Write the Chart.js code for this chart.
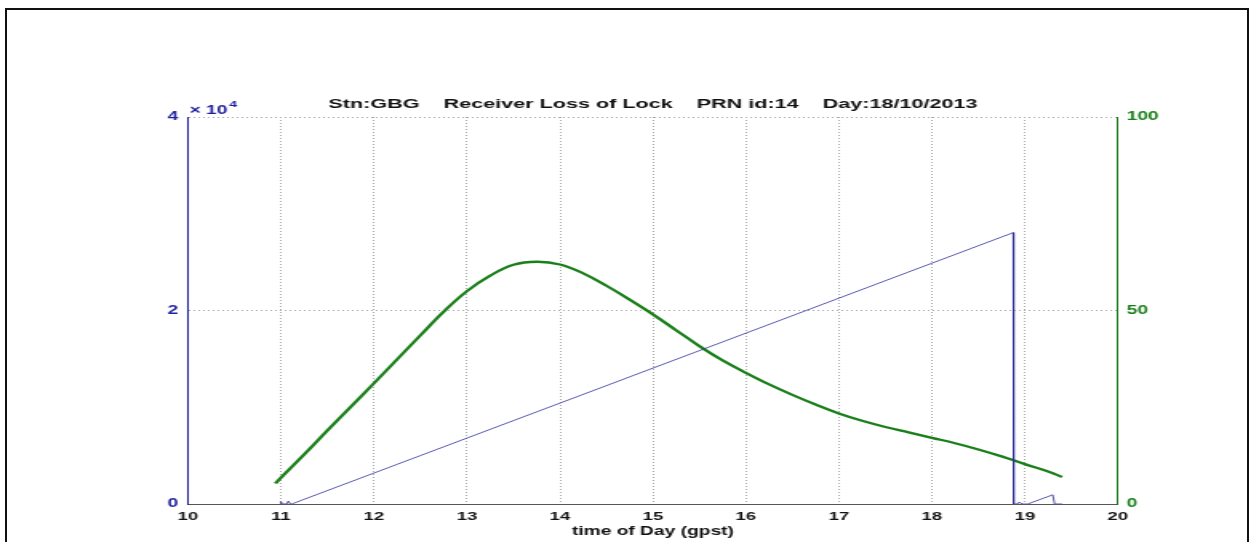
<!DOCTYPE html>
<html>
<head>
<meta charset="utf-8">
<script src="https://cdn.jsdelivr.net/npm/chart.js@4.4.1/dist/chart.umd.min.js"></script>
<style>
  html, body { margin: 0; padding: 0; background: #fff; overflow: hidden; }
  #grafico { position: absolute; left: 0; top: 0; }
  #marco {
    position: absolute; left: 5px; top: 8px; width: 1244px; height: 600px;
    border: 2px solid #111; box-sizing: border-box; pointer-events: none;
  }
</style>
</head>
<body>
<!-- el lienzo se dibuja angosto y se estira a lo ancho, como la figura original -->
<canvas id="grafico" width="782" height="542" style="width:1251px;height:542px"></canvas>
<div id="marco"></div>
<script>
/* ===================== DATOS ===================== */
// perdida de bloqueo del receptor (eje izquierdo, x 10^4)
const horasBloqueo = [11.0, 11.0, 11.01, 11.06, 11.08, 11.1, 11.115, 18.875, 18.88, 18.92, 18.94, 18.97, 19.03, 19.30, 19.32, 19.40];
const conteoBloqueo = [0, 250, 0, 0, 300, 0, 0, 28050, 0, 0, 200, 0, 0, 950, 0, 0];

// elevacion del satelite (eje derecho)
const horasElev = [10.94, 11.0, 11.25, 11.5, 11.75, 12.0, 12.25, 12.5, 12.75, 13.0, 13.25, 13.5, 13.75, 14.0, 14.25, 14.5, 14.75, 15.0, 15.25, 15.5, 15.75, 16.0, 16.25, 16.5, 16.75, 17.0, 17.25, 17.5, 17.75, 18.0, 18.25, 18.5, 18.75, 19.0, 19.25, 19.4];
const elevacion = [5.3, 6.8, 12.8, 19.0, 25.1, 31.2, 37.4, 43.6, 49.7, 55.0, 59.0, 61.8, 62.6, 61.9, 59.6, 56.4, 52.8, 49.0, 44.9, 40.8, 37.1, 33.9, 30.9, 28.2, 25.7, 23.4, 21.5, 19.9, 18.5, 17.1, 15.7, 14.1, 12.3, 10.3, 8.4, 7.0];

const ticksIzq = [0, 20000, 40000];
const ticksDer = [0, 50, 100];
const titulo = "Stn:GBG    Receiver Loss of Lock    PRN id:14    Day:18/10/2013";
const tituloX = "time of Day (gpst)";

/* ===================== ESTILO ===================== */
const fuente = "'Liberation Sans', Arial, Helvetica, sans-serif";
const azul = "#1f1f9e";
const verde = "#1a7f1a";
const gris = "#a8a8a8";

/* ===================== UTIL ===================== */
function puntos(xs, ys) {
  return xs.map((x, i) => ({ x: x, y: ys[i] }));
}

// "x 10^4" sobre el eje izquierdo
const exponente = {
  id: "exponente",
  afterDraw(chart) {
    const { ctx, chartArea } = chart;
    ctx.save();
    ctx.fillStyle = azul;
    ctx.textBaseline = "alphabetic";
    ctx.font = `bold 12px ${fuente}`;
    ctx.fillText("\u00d7 10", chartArea.left + 1, chartArea.top - 3);
    const w = ctx.measureText("\u00d7 10").width;
    ctx.font = `bold 9px ${fuente}`;
    ctx.fillText("4", chartArea.left + 2 + w, chartArea.top - 10);
    ctx.restore();
  },
};

/* ===================== GRAFICO ===================== */
new Chart(grafico, {
  type: "line",
  data: {
    datasets: [
      {
        label: "Loss of lock",
        data: puntos(horasBloqueo, conteoBloqueo),
        yAxisID: "yIzq",
        borderColor: "#2d2d9a",
        borderWidth: 0.8,
        pointRadius: 0,
        tension: 0,
      },
      {
        label: "Elevation",
        data: puntos(horasElev, elevacion),
        yAxisID: "yDer",
        borderColor: verde,
        borderWidth: 2.3,
        pointRadius: 0,
        tension: 0.4,
      },
    ],
  },
  plugins: [exponente],
  options: {
    responsive: false,
    animation: false,
    devicePixelRatio: 1,
    layout: { padding: 0 },
    plugins: {
      legend: { display: false },
      tooltip: { enabled: false },
      title: {
        display: true,
        text: titulo,
        fullSize: false,
        color: "#111",
        font: { family: fuente, size: 13.5, weight: "bold" },
        padding: { top: 96, bottom: 4.8 },
      },
    },
    scales: {
      x: {
        type: "linear",
        min: 10,
        max: 20,
        ticks: { stepSize: 1, color: "#111", padding: 6, font: { family: fuente, size: 11.5, weight: "bold" } },
        grid: {
          drawTicks: false,
          color: (c) => (c.tick && (c.tick.value === 10 || c.tick.value === 20) ? "rgba(0,0,0,0)" : gris),
        },
        border: { color: "#555", dash: [1, 2] },
        title: {
          display: true,
          text: tituloX,
          color: "#111",
          font: { family: fuente, size: 12, weight: "bold" },
          padding: { top: 0, bottom: 3 },
        },
        afterFit: (s) => { s.height = 38; },
      },
      yIzq: {
        position: "left",
        min: 0,
        max: 40000,
        afterBuildTicks: (s) => { s.ticks = ticksIzq.map((v) => ({ value: v })); },
        ticks: { color: azul, padding: 6, callback: (v) => v / 10000, font: { family: fuente, size: 12, weight: "bold" } },
        grid: {
          drawTicks: false,
          color: (c) => (c.tick && c.tick.value === 0 ? "rgba(0,0,0,0)" : gris),
        },
        border: { color: azul, dash: [1, 2] },
        afterFit: (s) => { s.width = 117.5; },
      },
      yDer: {
        position: "right",
        min: 0,
        max: 100,
        afterBuildTicks: (s) => { s.ticks = ticksDer.map((v) => ({ value: v })); },
        ticks: { color: verde, padding: 5.5, font: { family: fuente, size: 12, weight: "bold" } },
        grid: { drawOnChartArea: false, drawTicks: false },
        border: { color: verde },
        afterFit: (s) => { s.width = 782 - 698.75; },
      },
    },
  },
});
</script>
</body>
</html>
